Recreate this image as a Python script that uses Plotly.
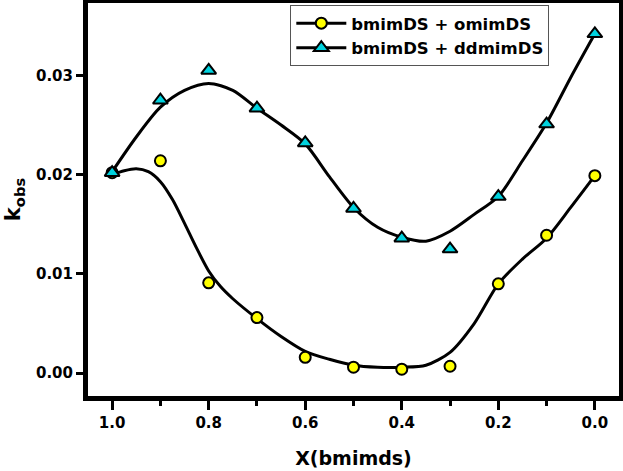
import plotly.graph_objects as go

# Data points
x_pts = [1.0, 0.9, 0.8, 0.7, 0.6, 0.5, 0.4, 0.3, 0.2, 0.1, 0.0]
k_omim = [0.0202, 0.0214, 0.0091, 0.0056, 0.0016, 0.0006, 0.0004, 0.0007, 0.0090, 0.0139, 0.0199]
k_ddmim = [0.0202, 0.0275, 0.0305, 0.0267, 0.0232, 0.0166, 0.0136, 0.0125, 0.0178, 0.0251, 0.0342]

# Fitted smooth curves
x_fit_omim = [1.0, 0.975, 0.95, 0.925, 0.9, 0.875, 0.85, 0.825, 0.8, 0.775, 0.75, 0.7, 0.65,
              0.6, 0.55, 0.5, 0.45, 0.4, 0.35, 0.3, 0.25, 0.2, 0.15, 0.1, 0.05, 0.0]
y_fit_omim = [0.0200, 0.0204, 0.0206, 0.0203, 0.0193, 0.0175, 0.0151, 0.0126, 0.0103, 0.0087,
              0.0075, 0.0055, 0.0037, 0.0022, 0.0014, 0.0008, 0.0006, 0.0006, 0.0008, 0.0021,
              0.0050, 0.0090, 0.0115, 0.0136, 0.0167, 0.0199]
x_fit_ddmim = [1.0, 0.95, 0.9, 0.85, 0.8, 0.75, 0.7, 0.65, 0.6, 0.55, 0.5, 0.45, 0.4, 0.35,
               0.3, 0.25, 0.2, 0.15, 0.1, 0.05, 0.0]
y_fit_ddmim = [0.0203, 0.0238, 0.0268, 0.0285, 0.0292, 0.0285, 0.0267, 0.0250, 0.0231, 0.0198,
               0.0167, 0.0147, 0.0137, 0.0133, 0.0143, 0.0160, 0.0178, 0.0214, 0.0252, 0.0298,
               0.0342]

names = ["bmimDS + omimDS", "bmimDS + ddmimDS"]
x_ticks = [1.0, 0.8, 0.6, 0.4, 0.2, 0.0]
x_tick_text = ["1.0", "0.8", "0.6", "0.4", "0.2", "0.0"]
x_minor_ticks = [0.9, 0.7, 0.5, 0.3, 0.1]
y_ticks = [0.00, 0.01, 0.02, 0.03]
y_tick_text = ["0.00", "0.01", "0.02", "0.03"]

YELLOW = "#FFFF00"
CYAN = "#00D2DE"
FONT = "DejaVu Sans"

fig = go.Figure()
fig.add_trace(go.Scatter(x=x_fit_omim, y=y_fit_omim, mode="lines",
                         line=dict(color="black", width=3, shape="spline", smoothing=0.8),
                         showlegend=False, hoverinfo="skip"))
fig.add_trace(go.Scatter(x=x_fit_ddmim, y=y_fit_ddmim, mode="lines",
                         line=dict(color="black", width=3, shape="spline", smoothing=0.8),
                         showlegend=False, hoverinfo="skip"))
fig.add_trace(go.Scatter(x=x_pts, y=k_omim, mode="markers", showlegend=False,
                         marker=dict(symbol="circle", size=11, color=YELLOW,
                                     line=dict(color="black", width=2))))
fig.add_trace(go.Scatter(x=x_pts, y=k_ddmim, mode="markers", showlegend=False,
                         marker=dict(symbol="triangle-up", size=13, color=CYAN,
                                     line=dict(color="black", width=2))))
# legend entries
fig.add_trace(go.Scatter(x=[None], y=[None], mode="lines+markers", name=names[0],
                         line=dict(color="black", width=3),
                         marker=dict(symbol="circle", size=11, color=YELLOW,
                                     line=dict(color="black", width=2))))
fig.add_trace(go.Scatter(x=[None], y=[None], mode="lines+markers", name=names[1],
                         line=dict(color="black", width=3),
                         marker=dict(symbol="triangle-up", size=13, color=CYAN,
                                     line=dict(color="black", width=2))))

fig.update_layout(
    width=623, height=471,
    margin=dict(l=88, r=4, t=3, b=75, autoexpand=False),
    plot_bgcolor="white", paper_bgcolor="white",
    font=dict(family=FONT, color="black", weight="bold"),
    legend=dict(x=0.381, y=0.995, xanchor="left", yanchor="top",
                bgcolor="white", bordercolor="#555555", borderwidth=1,
                font=dict(family=FONT, size=16.5, color="black", weight="bold"),
                tracegroupgap=0, itemwidth=50),
    xaxis=dict(range=[1.05, -0.05], tickvals=x_ticks, ticktext=x_tick_text,
               automargin=False,
               showgrid=False, zeroline=False, showline=True, linecolor="black",
               linewidth=5, mirror=True, ticks="outside", ticklen=9, tickwidth=3,
               tickcolor="black",
               minor=dict(tickvals=x_minor_ticks, ticks="outside",
                          ticklen=5, tickwidth=3, tickcolor="black", showgrid=False),
               tickfont=dict(family=FONT, size=15, color="black", weight="bold"),
               title=dict(text="X(bmimds)", standoff=22,
                          font=dict(family=FONT, size=19, color="black", weight="bold"))),
    yaxis=dict(range=[-0.0023, 0.0373], tickvals=y_ticks, ticktext=y_tick_text,
               automargin=False,
               showgrid=False, zeroline=False, showline=True, linecolor="black",
               linewidth=5, mirror=True, ticks="outside", ticklen=7, tickwidth=3,
               tickcolor="black",
               tickfont=dict(family=FONT, size=15, color="black", weight="bold"),
               title=dict(text="k<sub>obs</sub>", standoff=11,
                          font=dict(family=FONT, size=21, color="black", weight="bold"))),
)

fig.write_html("out.html", config={"displayModeBar": False},
               post_script="document.body.style.margin='0';")
